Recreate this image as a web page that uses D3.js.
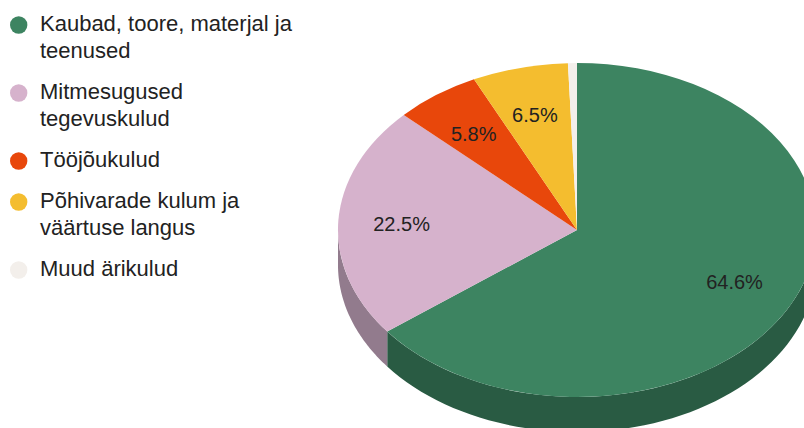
<!DOCTYPE html>
<html>
<head>
<meta charset="utf-8">
<script src="https://cdn.jsdelivr.net/npm/d3@7"></script>
<style>
  body { margin: 0; background: #fff; }
  svg { display: block; font-family: "Liberation Sans", Arial, sans-serif; }
</style>
</head>
<body>
<svg width="804" height="428"></svg>
<script>
// data
var categories = [
    "Kaubad, toore, materjal ja teenused",
    "Mitmesugused tegevuskulud",
    "Tööjõukulud",
    "Põhivarade kulum ja väärtuse langus",
    "Muud ärikulud"
];
var legendLines = [
    ["Kaubad, toore, materjal ja", "teenused"],
    ["Mitmesugused", "tegevuskulud"],
    ["Tööjõukulud"],
    ["Põhivarade kulum ja", "väärtuse langus"],
    ["Muud ärikulud"]
];
var values = [64.6, 22.5, 5.8, 6.5, 0.6];
var colors = ["#3d8461", "#d6b2cc", "#e8470b", "#f4bd2f", "#f3efeb"];

var svg = d3.select("svg");

var cx = 577, cy = 230, rx = 239, ry = 167, depth = 35;

var pie = d3.pie().sort(null).value(function(d) { return d; });
var slices = pie(values);

// point on the ellipse, angle clockwise from top
function pt(a, dy) {
    return [cx + rx * Math.sin(a), cy - ry * Math.cos(a) + (dy || 0)];
}

function sidePath(a0, a1) {
    var steps = 60, p = d3.path(), i, a, q;
    for (i = 0; i <= steps; i++) {
        a = a0 + (a1 - a0) * i / steps;
        q = pt(a, 0);
        if (i === 0) p.moveTo(q[0], q[1]); else p.lineTo(q[0], q[1]);
    }
    for (i = steps; i >= 0; i--) {
        a = a0 + (a1 - a0) * i / steps;
        q = pt(a, depth);
        p.lineTo(q[0], q[1]);
    }
    p.closePath();
    return p.toString();
}

// side walls (only the front half, pi/2 .. 3pi/2)
var sides = svg.append("g").attr("class", "sides");
slices.forEach(function(s, i) {
    var a0 = Math.max(s.startAngle, Math.PI / 2),
        a1 = Math.min(s.endAngle, Math.PI * 1.5);
    if (a1 <= a0) return;
    var c = d3.rgb(colors[i]);
    sides.append("path")
        .attr("d", sidePath(a0, a1))
        .attr("fill", d3.rgb(c.r * 0.68, c.g * 0.69, c.b * 0.69));
});

// top face
var arc = d3.arc().innerRadius(0).outerRadius(1);
svg.append("g")
    .attr("transform", "translate(" + cx + "," + cy + ") scale(" + rx + "," + ry + ")")
    .selectAll("path")
    .data(slices)
    .enter().append("path")
    .attr("d", arc)
    .attr("fill", function(d, i) { return colors[i]; });

// slice labels
svg.append("g")
    .selectAll("text")
    .data(slices.filter(function(d) { return d.value >= 5; }))
    .enter().append("text")
    .attr("x", function(d) {
        var a = (d.startAngle + d.endAngle) / 2;
        return cx + 0.735 * rx * Math.sin(a);
    })
    .attr("y", function(d) {
        var a = (d.startAngle + d.endAngle) / 2;
        return cy - 0.71 * ry * Math.cos(a);
    })
    .attr("dy", "0.35em")
    .attr("text-anchor", "middle")
    .attr("font-size", 20)
    .attr("fill", "#222")
    .text(function(d) { return d.value.toFixed(1) + "%"; });

// legend
var y = 31;
var legend = svg.append("g").attr("class", "legend");
legendLines.forEach(function(lines, i) {
    var g = legend.append("g");
    g.append("circle")
        .attr("cx", 18.7)
        .attr("cy", y - 6)
        .attr("r", 8.7)
        .attr("fill", colors[i]);
    var t = g.append("text")
        .attr("x", 40)
        .attr("y", y)
        .attr("font-size", 22)
        .attr("fill", "#222");
    lines.forEach(function(line, j) {
        t.append("tspan")
            .attr("x", 40)
            .attr("dy", j === 0 ? 0 : 26.5)
            .text(line);
    });
    y += (lines.length - 1) * 27 + 41;
});
</script>
</body>
</html>
